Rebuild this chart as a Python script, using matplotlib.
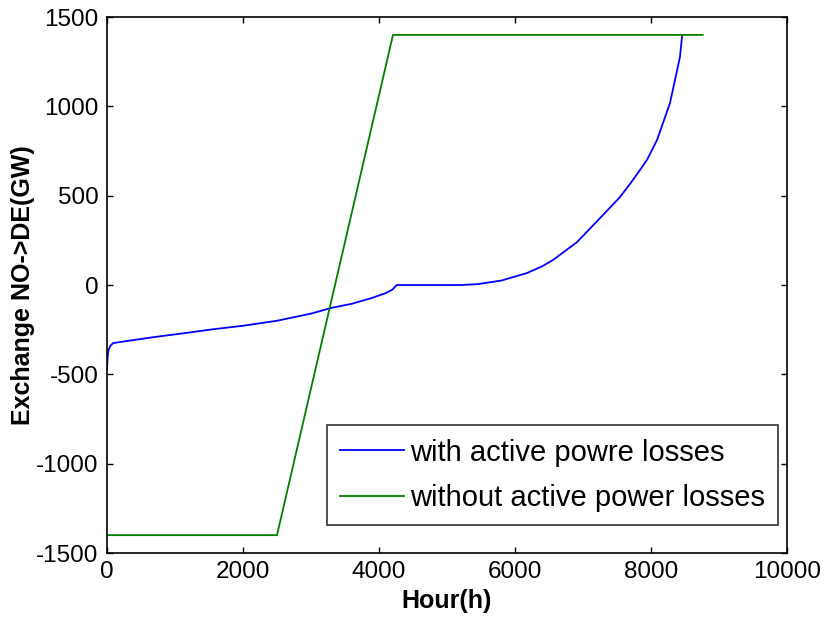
import matplotlib
matplotlib.use("Agg")
import matplotlib.pyplot as plt

plt.rcParams['font.family'] = ['Liberation Sans', 'DejaVu Sans']
plt.rcParams['axes.unicode_minus'] = False

# Blue: with active power losses (hour, GW)
hours_with = [0, 10, 20, 50, 90, 300, 700, 1150, 1550, 2000, 2500, 3000, 3300, 3600, 3900, 4100, 4200, 4260,
              5200, 5450, 5800, 6176, 6400, 6559, 6912, 7294, 7544, 7735, 7941, 8088, 8176, 8279, 8353,
              8426, 8456, 8460]
vals_with = [-470, -400, -365, -340, -325, -313, -291, -269, -248, -228, -200, -160, -128, -105, -72, -45, -25, 0,
             0, 5, 25, 67, 105, 140, 240, 392, 492, 588, 700, 811, 906, 1018, 1147,
             1276, 1388, 1400]

# Green: without active power losses (hour, GW)
hours_without = [0, 2500, 4206, 8760]
vals_without = [-1400, -1400, 1400, 1400]

fig = plt.figure(figsize=(8.25, 6.17), dpi=100)
ax = fig.add_axes([0.1297, 0.1037, 0.8242, 0.8687])
ax.plot(hours_with, vals_with, color='#0000ff', lw=1.3, label='with active powre losses')
ax.plot(hours_without, vals_without, color='#008000', lw=1.3, label='without active power losses')

ax.set_xlim(0, 10000)
ax.set_ylim(-1500, 1500)
ax.set_xticks([0, 2000, 4000, 6000, 8000, 10000])
ax.set_yticks([-1500, -1000, -500, 0, 500, 1000, 1500])
ax.tick_params(direction='in', labelsize=17.5, length=4.5, width=1, top=True, right=True, pad=6)
for s in ax.spines.values():
    s.set_linewidth(1.2)
ax.set_xlabel('Hour(h)', fontsize=18, fontweight='bold', labelpad=4)
ax.set_ylabel('Exchange NO->DE(GW)', fontsize=18, fontweight='bold', labelpad=1)

leg = ax.legend(loc='lower right', bbox_to_anchor=(0.987, 0.052), fontsize=21, frameon=True,
                fancybox=False, edgecolor='black', handlelength=2.2, borderpad=0.45,
                labelspacing=0.6, handletextpad=0.2, borderaxespad=0)
leg.get_frame().set_linewidth(1.2)

fig.savefig('out.png', dpi=100)
